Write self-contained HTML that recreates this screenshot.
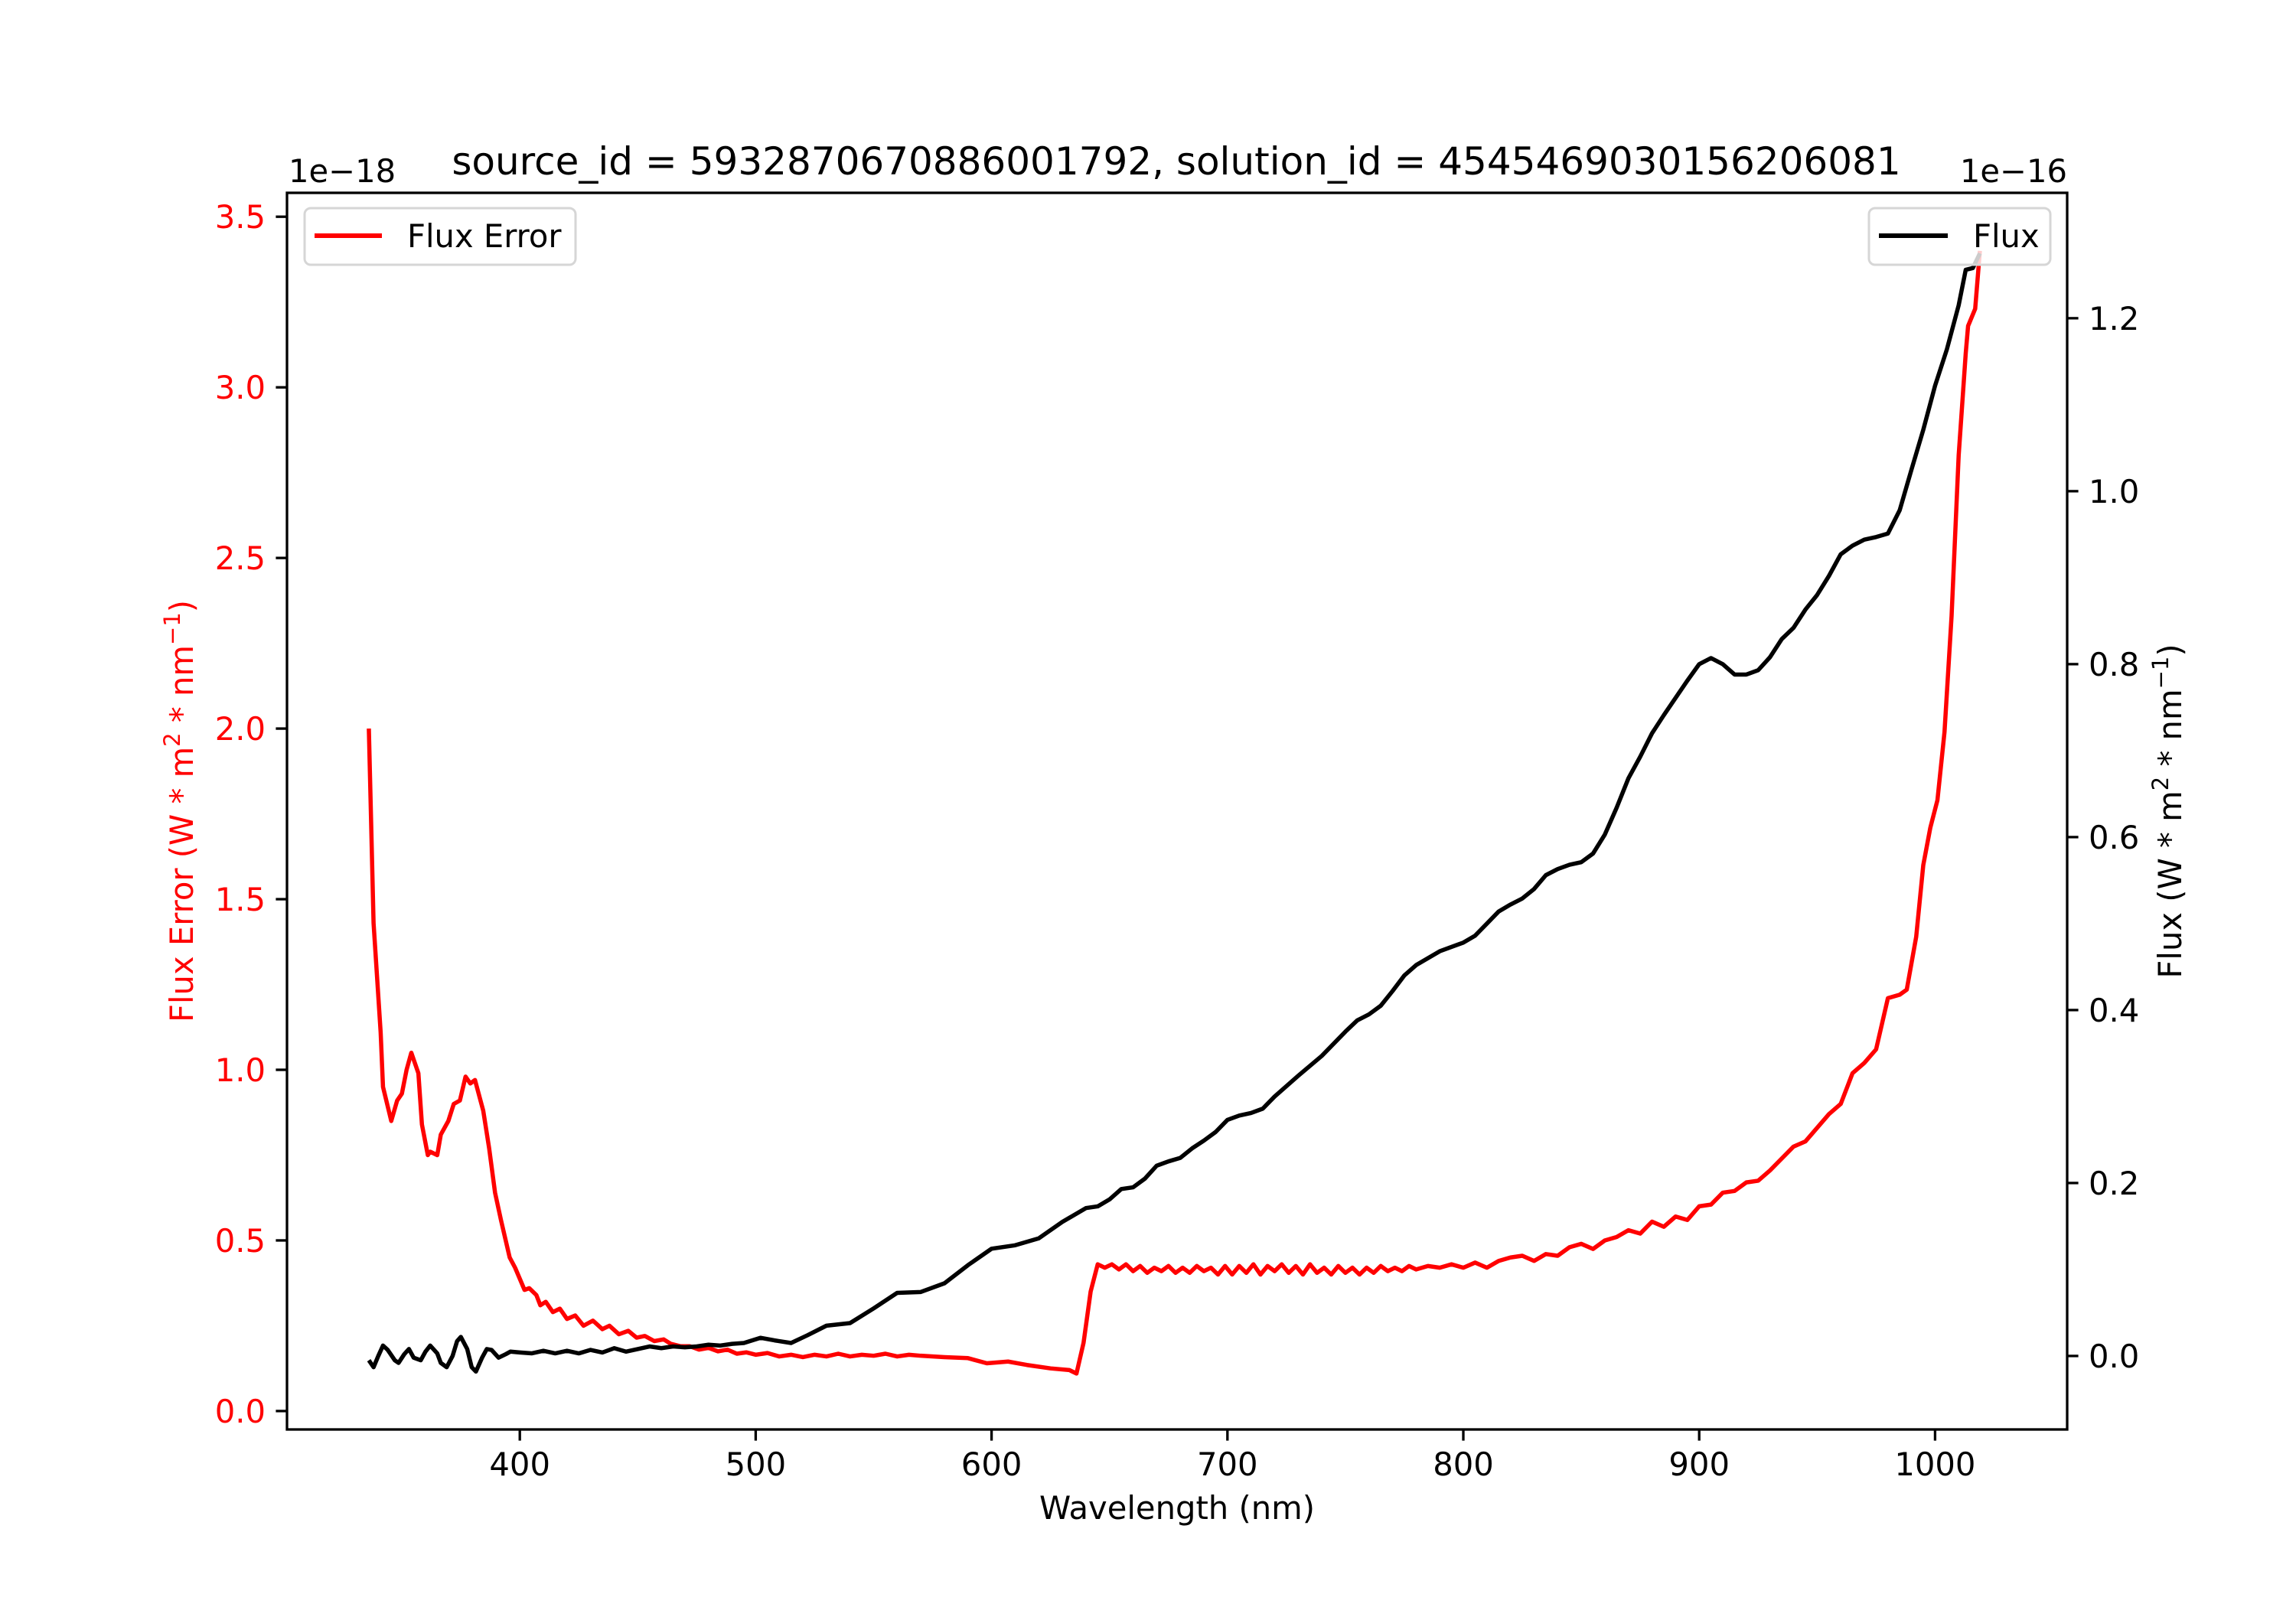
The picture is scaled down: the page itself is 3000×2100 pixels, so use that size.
<!DOCTYPE html>
<html><head><meta charset="utf-8"><style>
body{margin:0;background:#fff}
svg{display:block;font-family:"DejaVu Sans","Liberation Sans",sans-serif}
</style></head><body>
<svg id="chart" width="3000" height="2100" viewBox="0 0 3000 2100" xmlns="http://www.w3.org/2000/svg">
<rect width="3000" height="2100" fill="#fff"/>
<text x="1537" y="228" font-size="50" text-anchor="middle">source_id = 5932870670886001792, solution_id = 4545469030156206081</text>
<defs><clipPath id="clip"><rect x="375" y="252" width="2326" height="1616"/></clipPath></defs>
<g id="plot" clip-path="url(#clip)"></g>
<g id="axes"></g>
<rect x="375" y="252" width="2326" height="1616" fill="none" stroke="#000" stroke-width="3.3"/>
<text x="377" y="238" font-size="41.7">1e−18</text>
<text x="2701" y="238" font-size="41.7" text-anchor="end">1e−16</text>
<text x="1538" y="1985" font-size="41.7" text-anchor="middle">Wavelength (nm)</text>
<text transform="translate(252,1060) rotate(-90)" font-size="41.7" fill="#ff0000" text-anchor="middle">Flux Error (W * m<tspan baseline-shift="super" font-size="29">2</tspan> * nm<tspan baseline-shift="super" font-size="29">−1</tspan>)</text>
<text transform="translate(2850,1060) rotate(-90)" font-size="41.7" fill="#000" text-anchor="middle">Flux (W * m<tspan baseline-shift="super" font-size="29">2</tspan> * nm<tspan baseline-shift="super" font-size="29">−1</tspan>)</text>
<g>
<rect x="398" y="272" width="354" height="74" rx="8" fill="#fff" fill-opacity="0.8" stroke="#d6d6d6" stroke-width="3"/>
<line x1="411" y1="308" x2="499" y2="308" stroke="#ff0000" stroke-width="6"/>
<text x="532" y="323" font-size="41.7">Flux Error</text>
</g>
<g id="legend-right">
<rect x="2442" y="272" width="237" height="74" rx="8" fill="#fff" fill-opacity="0.8" stroke="#d6d6d6" stroke-width="3"/>
<line x1="2455" y1="308" x2="2545" y2="308" stroke="#000" stroke-width="6"/>
<text x="2578" y="323" font-size="41.7">Flux</text>
</g>
</svg>
<script>
const xTicks=[400,500,600,700,800,900,1000];
const leftTicks=[0.0,0.5,1.0,1.5,2.0,2.5,3.0,3.5];
const leftTickLabels=["0.0","0.5","1.0","1.5","2.0","2.5","3.0","3.5"];
const rightTicks=[0.0,0.2,0.4,0.6,0.8,1.0,1.2];
const rightTickLabels=["0.0","0.2","0.4","0.6","0.8","1.0","1.2"];
const errWl=[336,338,341,342,345.5,348,350,352,354,357,358.5,361,362,365,366.5,369.7,372,374.6,377,379,381,384.5,387,389.5,392,395.7,398,402,404,407,408.7,411,414,417,420,423.5,427,431,435,438,442,446,449.5,453,457,461,464,468,472,476,480,484,488,492,496,500,505,510,515,520,525,530,535,540,545,550,555,560,565,570,580,590,598,607,615,625,633,636,639,642,645,648,651,654,657,660,663,666,669,672,675,678,681,684,687,690,693,696,699,702,705,708,711,714,717,720,723,726,729,732,735,738,741,744,747,750,753,756,759,762,765,768,771,774,777,780,785,790,795,800,805,810,815,820,825,830,835,840,845,850,855,860,865,870,875,880,885,890,895,900,905,910,915,920,925,930,935,940,945,950,955,960,965,970,975,980,985,988,992,995,998,1001,1004,1007,1010,1013,1014,1017,1019];
const errVal=[2.00,1.43,1.11,0.95,0.85,0.91,0.93,1.00,1.05,0.99,0.84,0.75,0.76,0.75,0.81,0.85,0.90,0.91,0.98,0.96,0.97,0.88,0.77,0.64,0.56,0.45,0.42,0.355,0.36,0.34,0.31,0.32,0.29,0.30,0.27,0.28,0.25,0.265,0.24,0.25,0.225,0.235,0.215,0.22,0.205,0.21,0.197,0.19,0.19,0.18,0.185,0.175,0.18,0.168,0.172,0.165,0.17,0.16,0.165,0.158,0.165,0.16,0.168,0.16,0.165,0.162,0.168,0.16,0.165,0.162,0.158,0.155,0.14,0.145,0.135,0.125,0.12,0.11,0.2,0.35,0.43,0.42,0.43,0.415,0.43,0.41,0.425,0.405,0.42,0.41,0.425,0.405,0.42,0.405,0.425,0.41,0.42,0.40,0.425,0.40,0.425,0.405,0.43,0.40,0.425,0.41,0.43,0.405,0.425,0.40,0.43,0.405,0.42,0.40,0.425,0.405,0.42,0.40,0.42,0.405,0.425,0.41,0.42,0.41,0.425,0.415,0.425,0.42,0.43,0.42,0.435,0.42,0.44,0.45,0.455,0.44,0.46,0.455,0.48,0.49,0.475,0.50,0.51,0.53,0.52,0.555,0.54,0.57,0.56,0.60,0.605,0.64,0.645,0.67,0.675,0.705,0.74,0.775,0.79,0.83,0.87,0.90,0.99,1.02,1.06,1.21,1.22,1.235,1.39,1.60,1.71,1.79,1.99,2.33,2.80,3.10,3.18,3.23,3.40];
const fluxWl=[336,338,340,342,344,347,348.6,351,353,355,358,360,362,365,366.5,369,371.5,373.4,375,377.7,379.6,381.4,384,386,388,391,394,396,400,405,410,415,420,425,430,435,440,445,450,455,460,465,470,475,480,485,490,495,502,508,515,522,530,540,550,560,570,580,590,600,610,620,630,640,645,650,655,660,665,670,675,680,685,690,695,700,705,710,715,720,730,740,750,755,760,765,770,775,780,790,800,805,810,815,820,825,830,835,840,845,850,855,860,865,870,875,880,885,890,895,900,905,910,915,920,925,930,935,940,945,950,955,960,965,970,975,980,985,990,995,1000,1005,1010,1013,1016,1019];
const fluxVal=[-0.005,-0.013,0,0.012,0.007,-0.005,-0.008,0.002,0.008,-0.002,-0.005,0.005,0.012,0.003,-0.008,-0.013,0,0.017,0.022,0.008,-0.013,-0.018,-0.002,0.008,0.007,-0.002,0.002,0.005,0.004,0.003,0.006,0.003,0.006,0.003,0.007,0.004,0.009,0.005,0.008,0.011,0.009,0.011,0.01,0.011,0.013,0.012,0.014,0.015,0.021,0.018,0.015,0.024,0.035,0.038,0.055,0.073,0.074,0.084,0.105,0.124,0.128,0.136,0.155,0.171,0.173,0.181,0.193,0.195,0.205,0.22,0.225,0.229,0.24,0.249,0.259,0.273,0.278,0.281,0.286,0.30,0.324,0.347,0.375,0.388,0.395,0.405,0.422,0.44,0.452,0.468,0.478,0.486,0.50,0.514,0.522,0.529,0.54,0.556,0.563,0.568,0.571,0.581,0.603,0.634,0.668,0.693,0.72,0.741,0.761,0.781,0.80,0.807,0.80,0.788,0.788,0.793,0.808,0.829,0.842,0.863,0.88,0.902,0.927,0.937,0.944,0.947,0.951,0.978,1.025,1.071,1.122,1.164,1.215,1.256,1.258,1.275];

const X0=375,X1=2701,Y0=252,Y1=1868;
const xMin=301.3,xMax=1056,lMin=-0.054,lMax=3.57,rMin=-0.085,rMax=1.345;
function sx(v){return X0+(v-xMin)/(xMax-xMin)*(X1-X0);}
function syL(v){return Y1-(v-lMin)/(lMax-lMin)*(Y1-Y0);}
function syR(v){return Y1-(v-rMin)/(rMax-rMin)*(Y1-Y0);}
const NS="http://www.w3.org/2000/svg";
const plot=document.getElementById('plot'),axes=document.getElementById('axes');
function mk(tag,attrs,parent){const e=document.createElementNS(NS,tag);for(const k in attrs)e.setAttribute(k,attrs[k]);parent.appendChild(e);return e;}

const pe=mk('polyline',{points:errWl.map((w,i)=>sx(w)+','+syL(errVal[i])).join(' '),fill:'none',stroke:'#ff0000','stroke-width':5.5,'stroke-linejoin':'round'},plot);


const pf=mk('polyline',{points:fluxWl.map((w,i)=>sx(w)+','+syR(fluxVal[i])).join(' '),fill:'none',stroke:'#000','stroke-width':5.5,'stroke-linejoin':'round'},plot);



xTicks.forEach(t=>{
  const x=sx(t);
  const l=mk('line',{x1:x,y1:Y1,x2:x,y2:Y1+14.6,stroke:'#000','stroke-width':3.3},axes);
  
  
  const tx=mk('text',{x:x,y:Y1+60,'font-size':41.7,'text-anchor':'middle'},axes);
  tx.textContent=String(t);
  
  
});
leftTicks.forEach((t,i)=>{
  const y=syL(t);
  const l=mk('line',{x1:X0-14.6,y1:y,x2:X0,y2:y,stroke:'#000','stroke-width':3.3},axes);
  
  
  const tx=mk('text',{x:X0-28,y:y+15,'font-size':41.7,'text-anchor':'end',fill:'#ff0000'},axes);
  tx.textContent=leftTickLabels[i];
  
  
});
rightTicks.forEach((t,i)=>{
  const y=syR(t);
  const l=mk('line',{x1:X1,y1:y,x2:X1+14.6,y2:y,stroke:'#000','stroke-width':3.3},axes);
  
  
  const tx=mk('text',{x:X1+28,y:y+15,'font-size':41.7,'text-anchor':'start'},axes);
  tx.textContent=rightTickLabels[i];
  
  
});
</script>
</body></html>
